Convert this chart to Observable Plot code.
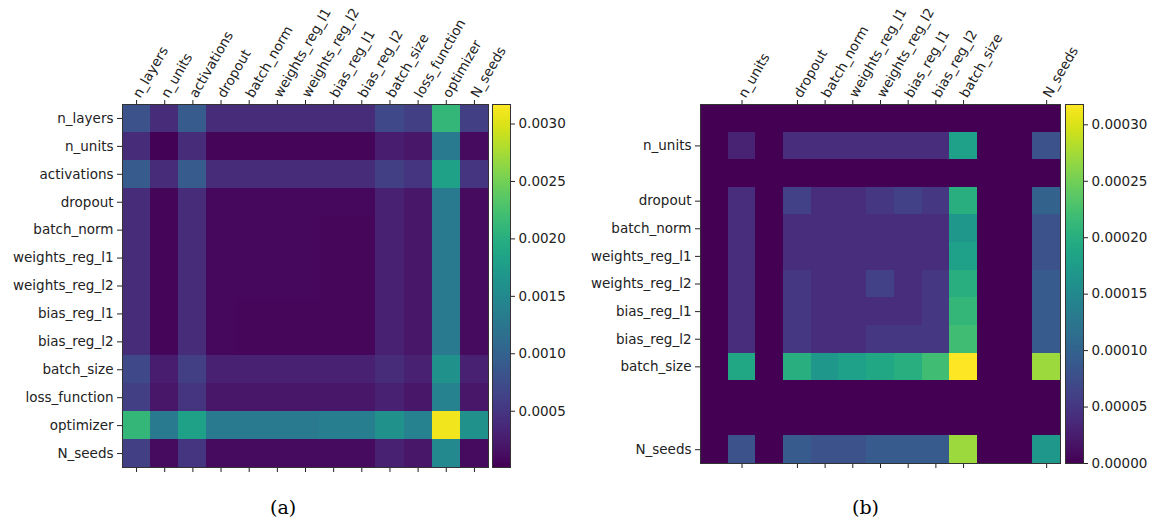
<!DOCTYPE html>
<html>
<head>
<meta charset="utf-8">
<script src="https://cdn.jsdelivr.net/npm/d3@7"></script>
<script src="https://cdn.jsdelivr.net/npm/@observablehq/plot@0.6"></script>
<style>
  body { margin: 0; background: white; font-family: "DejaVu Sans", sans-serif; }
  #wrap { position: relative; width: 1151px; height: 522px; }
  .abs { position: absolute; top: 0; }
  .cap { position: absolute; top: 496px; font-family: "DejaVu Serif", serif; font-size: 19px; }
</style>
</head>
<body>
<div id="wrap">
  <div id="hmA" class="abs" style="left:0px"></div>
  <div id="cbA" class="abs" style="left:490px"></div>
  <div id="hmB" class="abs" style="left:560px"></div>
  <div id="cbB" class="abs" style="left:1063px"></div>
  <div class="cap" style="left:270px">(a)</div>
  <div class="cap" style="left:852px">(b)</div>
</div>
<script>
const params = ["n_layers", "n_units", "activations", "dropout", "batch_norm",
  "weights_reg_l1", "weights_reg_l2", "bias_reg_l1", "bias_reg_l2",
  "batch_size", "loss_function", "optimizer", "N_seeds"];

// Panel (a): rows in the order of params
const valuesA = [
  [0.0008, 0.0004, 0.0009, 0.0004, 0.0004, 0.0004, 0.0004, 0.0004, 0.0004, 0.0007, 0.0006, 0.0021, 0.0006],
  [0.0004, 0.00003, 0.0004, 0.00005, 0.00005, 0.00005, 0.00005, 0.00005, 0.00005, 0.00025, 0.0002, 0.0013, 0.0001],
  [0.0009, 0.0004, 0.0009, 0.0004, 0.0004, 0.0004, 0.0004, 0.0004, 0.0004, 0.0006, 0.0005, 0.0018, 0.0005],
  [0.0004, 0.00005, 0.0004, 0.00008, 0.00008, 0.00008, 0.00008, 0.00008, 0.00008, 0.0003, 0.0002, 0.0013, 0.0001],
  [0.0004, 0.00005, 0.0004, 0.00008, 0.00008, 0.00008, 0.00008, 0.00007, 0.00007, 0.0003, 0.0002, 0.0013, 0.0001],
  [0.0004, 0.00005, 0.0004, 0.00008, 0.00008, 0.00008, 0.00008, 0.00007, 0.00007, 0.0003, 0.0002, 0.0013, 0.0001],
  [0.0004, 0.00005, 0.0004, 0.00008, 0.00008, 0.00008, 0.00008, 0.00007, 0.00007, 0.0003, 0.0002, 0.0013, 0.0001],
  [0.0004, 0.00005, 0.0004, 0.00008, 0.00007, 0.00007, 0.00007, 0.00007, 0.00007, 0.0003, 0.0002, 0.0013, 0.0001],
  [0.0004, 0.00005, 0.0004, 0.00008, 0.00007, 0.00007, 0.00007, 0.00007, 0.00007, 0.0003, 0.0002, 0.0013, 0.0001],
  [0.0007, 0.00025, 0.0006, 0.0003, 0.0003, 0.0003, 0.0003, 0.0003, 0.0003, 0.0004, 0.0003, 0.0016, 0.0003],
  [0.0006, 0.0002, 0.0005, 0.0002, 0.0002, 0.0002, 0.0002, 0.0002, 0.0002, 0.0003, 0.0002, 0.0014, 0.0002],
  [0.0021, 0.0013, 0.0018, 0.0013, 0.0013, 0.0013, 0.0013, 0.00135, 0.00135, 0.0016, 0.0014, 0.0031, 0.0016],
  [0.0006, 0.0001, 0.0005, 0.0001, 0.0001, 0.0001, 0.0001, 0.0001, 0.0001, 0.0003, 0.0002, 0.0015, 0.0001]
];
const domainA = [0.00001, 0.00317];
const ticksA = [0.0005, 0.0010, 0.0015, 0.0020, 0.0025, 0.0030];

// Panel (b)
const z = 0;
const valuesB = [
  [z, z, z, z, z, z, z, z, z, z, z, z, z],
  [z, 0.00003, z, 0.00004, 0.00004, 0.00004, 0.00004, 0.00004, 0.00004, 0.00018, z, z, 0.00008],
  [z, z, z, z, z, z, z, z, z, z, z, z, z],
  [z, 0.00004, z, 0.00006, 0.00004, 0.00004, 0.00005, 0.00006, 0.00005, 0.00020, z, z, 0.00010],
  [z, 0.00004, z, 0.00004, 0.00004, 0.00004, 0.00004, 0.00004, 0.00004, 0.00017, z, z, 0.00008],
  [z, 0.00004, z, 0.00004, 0.00004, 0.00004, 0.00004, 0.00004, 0.00004, 0.00018, z, z, 0.00008],
  [z, 0.00004, z, 0.00005, 0.00004, 0.00004, 0.00006, 0.00004, 0.00005, 0.00020, z, z, 0.00009],
  [z, 0.00004, z, 0.00005, 0.00004, 0.00004, 0.00004, 0.00004, 0.00005, 0.00021, z, z, 0.00009],
  [z, 0.00004, z, 0.00005, 0.00004, 0.00004, 0.00005, 0.00005, 0.00005, 0.00022, z, z, 0.00009],
  [z, 0.00019, z, 0.00020, 0.00017, 0.00018, 0.00019, 0.00020, 0.00022, 0.00032, z, z, 0.00027],
  [z, z, z, z, z, z, z, z, z, z, z, z, z],
  [z, z, z, z, z, z, z, z, z, z, z, z, z],
  [z, 0.00008, z, 0.00009, 0.00008, 0.00008, 0.00009, 0.00009, 0.00009, 0.00027, z, z, 0.00017]
];
const domainB = [0, 0.000318];
const ticksB = [0, 0.00005, 0.00010, 0.00015, 0.00020, 0.00025, 0.00030];
const labelsB = ["n_units", "dropout", "batch_norm", "weights_reg_l1", "weights_reg_l2",
  "bias_reg_l1", "bias_reg_l2", "batch_size", "N_seeds"];

function cells(values) {
  const out = [];
  values.forEach((row, i) => row.forEach((v, j) => out.push({ r: params[i], c: params[j], v })));
  return out;
}

const baseStyle = { fontFamily: "DejaVu Sans, sans-serif", fontSize: "13.5px", color: "#222", background: "transparent", overflow: "visible" };

function heatmap(values, domain, tickLabels, opts) {
  return Plot.plot({
    width: opts.width, height: 490,
    marginLeft: opts.marginLeft, marginTop: 104, marginRight: opts.marginRight, marginBottom: opts.marginBottom,
    style: baseStyle,
    x: { domain: params, padding: 0, round: false, axis: null },
    y: { domain: params, padding: 0, round: false, axis: null },
    color: { type: "linear", scheme: "viridis", domain: domain, clamp: true },
    marks: [
      Plot.cell(cells(values), { x: "c", y: "r", fill: "v", inset: 0, shapeRendering: "crispEdges" }),
      Plot.axisX({ anchor: "top", ticks: tickLabels, tickRotate: -60, tickSize: 5, tickPadding: 3, label: null }),
      Plot.axisX({ anchor: "bottom", ticks: tickLabels, tickFormat: () => "", tickSize: 5, label: null }),
      Plot.axisY({ anchor: "left", ticks: tickLabels, tickSize: 5, tickPadding: 4, label: null }),
      Plot.frame({ stroke: "#333", strokeWidth: 1 })
    ]
  });
}

function colorbar(domain, ticks, fmt, height, marginBottom) {
  const n = 200;
  const step = (domain[1] - domain[0]) / n;
  const strips = d3.range(n).map(i => ({ y1: domain[0] + i * step, y2: domain[0] + (i + 1) * step }));
  return Plot.plot({
    width: 88, height: height,
    marginLeft: 2, marginRight: 68, marginTop: 104, marginBottom: marginBottom,
    style: baseStyle,
    x: { domain: [0, 1], axis: null },
    y: { domain: domain, axis: null },
    color: { type: "linear", scheme: "viridis", domain: domain },
    marks: [
      Plot.rect(strips, { x1: 0, x2: 1, y1: "y1", y2: "y2", fill: d => (d.y1 + d.y2) / 2, shapeRendering: "crispEdges" }),
      Plot.axisY({ anchor: "right", ticks: ticks, tickFormat: fmt, tickSize: 4, tickPadding: 4, label: null }),
      Plot.frame({ stroke: "#333", strokeWidth: 1 })
    ]
  });
}

document.getElementById("hmA").appendChild(
  heatmap(valuesA, domainA, params, { width: 520, marginLeft: 122, marginRight: 32, marginBottom: 23 }));
document.getElementById("cbA").appendChild(colorbar(domainA, ticksA, d3.format(".4f"), 490, 23));
document.getElementById("hmB").appendChild(
  heatmap(valuesB, domainB, labelsB, { width: 532, marginLeft: 140, marginRight: 32, marginBottom: 27 }));
document.getElementById("cbB").appendChild(colorbar(domainB, ticksB, d3.format(".5f"), 490, 27));
</script>
</body>
</html>
